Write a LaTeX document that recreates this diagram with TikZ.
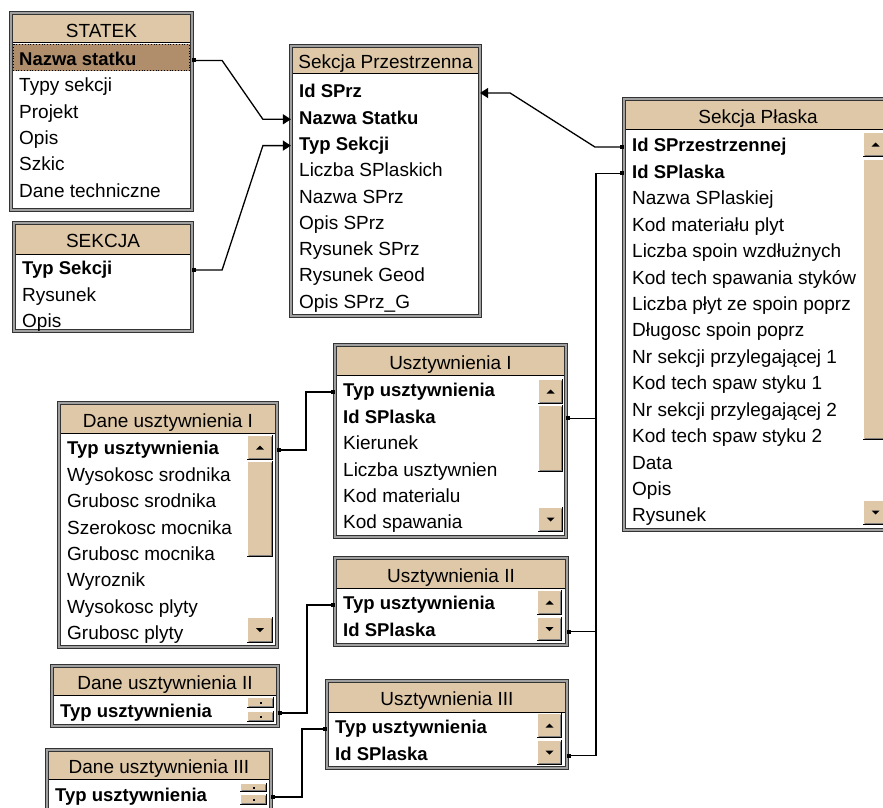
\documentclass[tikz,border=0pt]{standalone}
\usepackage{fontspec}
\setmainfont{Liberation Sans}
\usetikzlibrary{arrows.meta,calc}

\definecolor{bez}{RGB}{223,200,167}
\definecolor{braz}{RGB}{176,142,108}
\definecolor{szary}{RGB}{160,160,160}

\tikzset{
  ramka/.style={draw=black!80, line width=1.1pt, double=szary, double distance=1.6pt, fill=white, inner sep=0pt, outer sep=0pt},
  tytul/.style={inner sep=0pt, text height=13.6pt, text depth=4pt, font=\fontsize{19}{22}\selectfont},
  pole/.style={anchor=west, inner sep=0pt, text height=13.6pt, text depth=4pt, font=\fontsize{19}{22}\selectfont},
  klucz/.style={pole, font=\fontsize{18.5}{22}\selectfont\bfseries},
  lacznik/.style={line width=1.3pt},
  kropka/.tip={Square[length=3.5pt,width=4pt]},
  >={Triangle[length=8pt,width=10pt]}
}

% ramka tabeli: nazwa, x1, y1, x2, y2, dol naglowka, tytul
\newcommand{\tabela}[7]{%
  \node[ramka, minimum width={#4-#2-3.8}, minimum height={#5-#3-3.8}] (#1) at ({(#2+#4)/2},{(#3+#5)/2}) {};
  \fill[bez] (#2+3.8,#3+3.8) rectangle (#4-3.8,#6);
  \draw[line width=1pt] (#2+3.8,#6) -- (#4-3.8,#6);
  \node[tytul] (#1-tytul) at ({(#2+#4)/2},{(#3+#6)/2+5.5}) {#7};
}
% przycisk paska przewijania
\newcommand{\przycisk}[4]{%
  \fill[bez] (#1,#2) rectangle (#3,#4);
  \draw[white, line width=1.2pt] (#1+0.6,#4-1.2) -- (#1+0.6,#2+0.6) -- (#3-1.2,#2+0.6);
  \draw[black!50, line width=1.2pt] (#1+1.8,#4-1.6) -- (#3-1.6,#4-1.6) -- (#3-1.6,#2+1.8);
  \draw[line width=1pt] (#1,#4-0.5) -- (#3-0.5,#4-0.5) -- (#3-0.5,#2);
}
\newcommand{\wgore}[4]{%
  \przycisk{#1}{#2}{#3}{#4}
  \fill ({(#1+#3)/2-4},{(#2+#4)/2+2}) -- ({(#1+#3)/2+4},{(#2+#4)/2+2}) -- ({(#1+#3)/2},{(#2+#4)/2-2}) -- cycle;
}
\newcommand{\wdol}[4]{%
  \przycisk{#1}{#2}{#3}{#4}
  \fill ({(#1+#3)/2-4},{(#2+#4)/2-2}) -- ({(#1+#3)/2+4},{(#2+#4)/2-2}) -- ({(#1+#3)/2},{(#2+#4)/2+2}) -- cycle;
}
\newcommand{\maly}[4]{%
  \przycisk{#1}{#2}{#3}{#4}
  \fill ({(#1+#3)/2-1},{(#2+#4)/2-1}) rectangle ++(2,2);
}

\begin{document}
\begin{tikzpicture}[x=1pt, y=-1pt]
\useasboundingbox (0,0) rectangle (883,808);
\clip (0,0) rectangle (883,808);

% tabele
\tabela{statek}{9}{11}{194}{212}{43}{STATEK}
\tabela{sekcja}{12}{221}{194}{333}{254}{SEKCJA}
\tabela{sprz}{289}{44}{482}{318}{73}{Sekcja Przestrzenna}
\tabela{plaska}{622}{97}{894}{532}{129}{Sekcja Płaska}
\tabela{daneI}{57}{401}{279}{649}{433}{Dane usztywnienia I}
\tabela{usztI}{333}{343}{568}{539}{375}{Usztywnienia I}
\tabela{usztII}{333}{556}{569}{647}{588}{Usztywnienia II}
\tabela{usztIII}{325}{679}{569}{770}{712}{Usztywnienia III}
\tabela{daneII}{50}{664}{280}{728}{695}{Dane usztywnienia II}
\tabela{daneIII}{45}{748}{273}{830}{779}{Dane usztywnienia III}

% paski przewijania
\wgore{863}{132}{888}{157} \przycisk{863}{159}{888}{440} \wdol{863}{500}{888}{525}
\wgore{247}{435}{273}{460} \przycisk{247}{461}{273}{557} \wdol{247}{617}{273}{643}
\wgore{538}{379}{563}{404} \przycisk{538}{405}{563}{472} \wdol{538}{507}{563}{532}
\wgore{537}{590}{562}{615} \wdol{537}{617}{562}{641}
\wgore{537}{713}{562}{738} \wdol{537}{740}{562}{765}
\maly{247}{697}{274}{708} \maly{247}{711}{274}{722}
\maly{240}{783}{267}{792} \maly{240}{794}{267}{805}

% wybrane pole
\fill[braz] (13,44) rectangle (190,71);
\draw[dotted, line width=0.8pt] (13.5,44.5) rectangle (189.5,70.5);

% STATEK
\node[klucz] (statek-nazwa) at (19,60.5) {Nazwa statku};
\node[pole] (statek-typy) at (19,86.9) {Typy sekcji};
\node[pole] (statek-projekt) at (19,113.3) {Projekt};
\node[pole] (statek-opis) at (19,139.7) {Opis};
\node[pole] (statek-szkic) at (19,166.1) {Szkic};
\node[pole] (statek-dane) at (19,192.5) {Dane techniczne};

% SEKCJA
\node[klucz] (sekcja-typ) at (22,270) {Typ Sekcji};
\node[pole] (sekcja-rysunek) at (22,296.4) {Rysunek};
\node[pole] (sekcja-opis) at (22,322.8) {Opis};

% Sekcja Przestrzenna
\node[klucz] (sprz-id) at (299,93) {Id SPrz};
\node[klucz] (sprz-nazwa) at (299,119.3) {Nazwa Statku};
\node[klucz] (sprz-typ) at (299,145.6) {Typ Sekcji};
\node[pole] (sprz-liczba) at (299,171.9) {Liczba SPlaskich};
\node[pole] (sprz-nazwaprz) at (299,198.2) {Nazwa SPrz};
\node[pole] (sprz-opis) at (299,224.5) {Opis SPrz};
\node[pole] (sprz-rysunek) at (299,250.8) {Rysunek SPrz};
\node[pole] (sprz-geod) at (299,277.1) {Rysunek Geod};
\node[pole] (sprz-opisg) at (299,303.4) {Opis SPrz\_G};

% Sekcja Plaska
\node[klucz] (plaska-idprz) at (632,147) {Id SPrzestrzennej};
\node[klucz] (plaska-id) at (632,173.4) {Id SPlaska};
\node[pole] (plaska-nazwa) at (632,199.9) {Nazwa SPlaskiej};
\node[pole] (plaska-kodmat) at (632,226.3) {Kod materiału plyt};
\node[pole] (plaska-wzdl) at (632,252.7) {Liczba spoin wzdłużnych};
\node[pole] (plaska-kodsp) at (632,279.2) {Kod tech spawania styków};
\node[pole] (plaska-plyty) at (632,305.6) {Liczba płyt ze spoin poprz};
\node[pole] (plaska-dlug) at (632,332) {Długosc spoin poprz};
\node[pole] (plaska-nr1) at (632,358.4) {Nr sekcji przylegającej 1};
\node[pole] (plaska-kod1) at (632,384.9) {Kod tech spaw styku 1};
\node[pole] (plaska-nr2) at (632,411.3) {Nr sekcji przylegającej 2};
\node[pole] (plaska-kod2) at (632,437.7) {Kod tech spaw styku 2};
\node[pole] (plaska-data) at (632,464.2) {Data};
\node[pole] (plaska-opis) at (632,490.6) {Opis};
\node[pole] (plaska-rysunek) at (632,517) {Rysunek};

% Dane usztywnienia I
\node[klucz] (daneI-typ) at (67,450) {Typ usztywnienia};
\node[pole] (daneI-wsr) at (67,476.4) {Wysokosc srodnika};
\node[pole] (daneI-gsr) at (67,502.8) {Grubosc srodnika};
\node[pole] (daneI-smo) at (67,529.2) {Szerokosc mocnika};
\node[pole] (daneI-gmo) at (67,555.6) {Grubosc mocnika};
\node[pole] (daneI-wyr) at (67,582) {Wyroznik};
\node[pole] (daneI-wpl) at (67,608.4) {Wysokosc plyty};
\node[pole] (daneI-gpl) at (67,634.8) {Grubosc plyty};

% Usztywnienia I
\node[klucz] (usztI-typ) at (343,392) {Typ usztywnienia};
\node[klucz] (usztI-id) at (343,418.4) {Id SPlaska};
\node[pole] (usztI-kier) at (343,444.8) {Kierunek};
\node[pole] (usztI-liczba) at (343,471.2) {Liczba usztywnien};
\node[pole] (usztI-mat) at (343,497.6) {Kod materialu};
\node[pole] (usztI-spaw) at (343,524) {Kod spawania};

% Usztywnienia II i III
\node[klucz] (usztII-typ) at (343,605) {Typ usztywnienia};
\node[klucz] (usztII-id) at (343,631.5) {Id SPlaska};
\node[klucz] (usztIII-typ) at (335,729) {Typ usztywnienia};
\node[klucz] (usztIII-id) at (335,755.5) {Id SPlaska};

% Dane usztywnienia II i III
\node[klucz] (daneII-typ) at (60,713) {Typ usztywnienia};
\node[klucz] (daneIII-typ) at (55,797) {Typ usztywnienia};

% relacje
\draw[lacznik, kropka->] (statek-nazwa -| statek.east) -- ++(30,0) -- ($(sprz-nazwa -| sprz.west)+(-28,0)$) -- (sprz-nazwa -| sprz.west);
\draw[lacznik, kropka->] (sekcja-typ -| sekcja.east) -- ++(30,0) -- ($(sprz-typ -| sprz.west)+(-28,0)$) -- (sprz-typ -| sprz.west);
\draw[lacznik, kropka->] (plaska-idprz -| plaska.west) -- ++(-29,0) -- ($(sprz-id -| sprz.east)+(30,0)$) -- (sprz-id -| sprz.east);
\draw[lacznik, kropka-kropka] (plaska-id -| plaska.west) -- ++(-28,0) |- (usztI-id -| usztI.east);
\draw[lacznik, kropka-kropka] (plaska-id -| plaska.west) -- ++(-28,0) |- (usztII-id -| usztII.east);
\draw[lacznik, kropka-kropka] (plaska-id -| plaska.west) -- ++(-28,0) |- (usztIII-id -| usztIII.east);
\draw[lacznik, kropka-kropka] (daneI-typ -| daneI.east) -- ++(29,0) |- (usztI-typ -| usztI.west);
\draw[lacznik, kropka-kropka] (daneII-typ -| daneII.east) -- ++(29,0) |- (usztII-typ -| usztII.west);
\draw[lacznik, kropka-kropka] (daneIII-typ -| daneIII.east) -- ++(31,0) |- (usztIII-typ -| usztIII.west);

\end{tikzpicture}
\end{document}
